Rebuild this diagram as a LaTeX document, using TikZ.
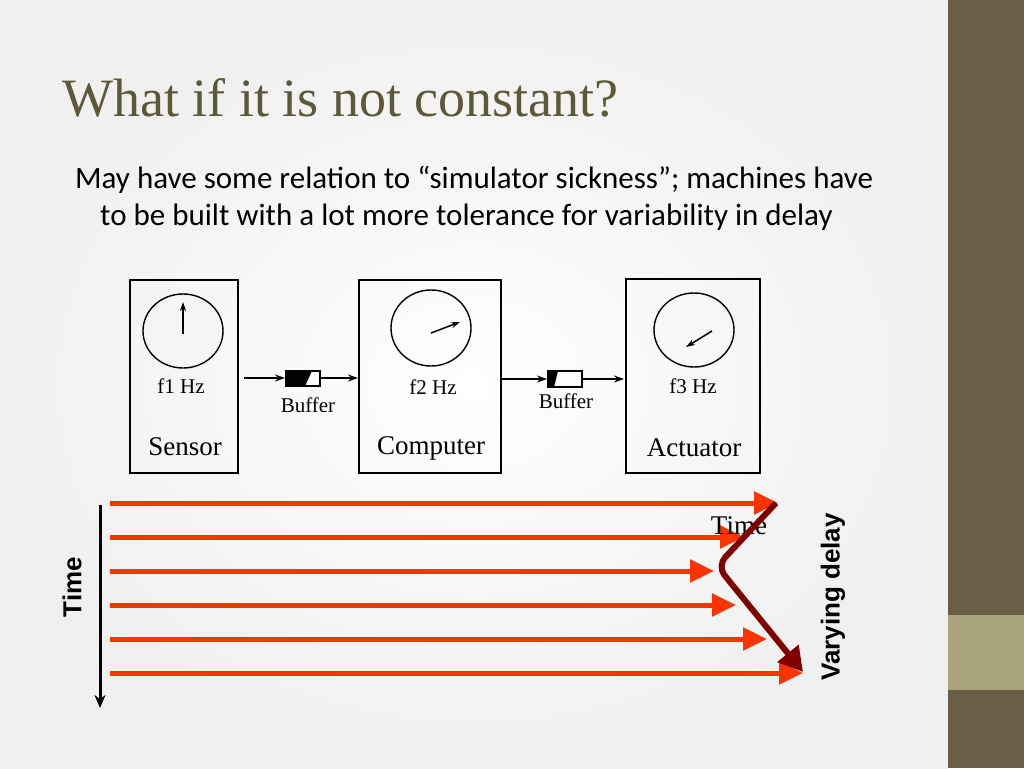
\documentclass[tikz,border=0pt]{standalone}
\usepackage{fontspec}
\setmainfont{Liberation Serif}
\newfontfamily\bodyfont{Carlito}
\newfontfamily\arialfont{Liberation Sans}
\usetikzlibrary{arrows.meta}
\definecolor{olive}{HTML}{6B5E46}
\definecolor{tan}{HTML}{A9A47E}
\definecolor{titlec}{HTML}{5C5838}
\definecolor{redarr}{HTML}{FF3300}
\definecolor{darkred}{HTML}{800000}
\begin{document}
\begin{tikzpicture}[x=1pt,y=-1pt,
  box/.style={draw,line width=1.4pt},
  dial/.style={draw,line width=1.4pt},
  lab/.style={font=\fontsize{21}{21}\selectfont,inner sep=0},
  big/.style={font=\fontsize{27}{27}\selectfont,inner sep=0},
  flow/.style={-{Stealth[length=10pt,width=7pt]},line width=2pt},
  hand/.style={-{Stealth[length=9pt,width=6pt]},line width=1.5pt},
  ray/.style={redarr,line width=5pt,-{Triangle[length=24pt,width=22pt]}}]
\useasboundingbox (0,0) rectangle (1024,768);
\shade[inner color=white,outer color=black!6] (0,0) rectangle (948,768);
\fill[olive] (948,0) rectangle (1024,768);
\fill[tan] (948,615) rectangle (1024,690);
\node[anchor=west,text=titlec,font=\fontsize{54}{54}\selectfont,inner sep=0] (title) at (62,98) {What if it is not constant?};
\node[anchor=west,font=\bodyfont\fontsize{31}{31}\selectfont,inner sep=0] (l1) at (75,180) {May have some relation to “simulator sickness”; machines have};
\node[anchor=west,font=\bodyfont\fontsize{31}{31}\selectfont,inner sep=0] (l2) at (100,217) {to be built with a lot more tolerance for variability in delay};
% boxes
\draw[box] (130,280) rectangle (238,473);
\draw[box] (359,280) rectangle (501,473);
\draw[box] (626,279) rectangle (760,473);
\draw[dial] (183,331) ellipse (40 and 37);
\draw[dial] (431,328) ellipse (40 and 38);
\draw[dial] (694,330) ellipse (40 and 37);
\coordinate (s0) at (183,334); \coordinate (s1) at (183,302);
\draw[hand] (s0) -- (s1);
\coordinate (c0) at (431,333); \coordinate (c1) at (460,322);
\draw[hand] (c0) -- (c1);
\coordinate (a0) at (712,331); \coordinate (a1) at (686,347);
\draw[hand] (a0) -- (a1);
\node[lab] (f1) at (181,386) {f1 Hz};
\node[lab] (f2) at (433,387) {f2 Hz};
\node[lab] (f3) at (693,386) {f3 Hz};
\node[lab] (b1l) at (308,405) {Buffer};
\node[lab] (b2l) at (566,401) {Buffer};
\node[big] (sen) at (185,447) {Sensor};
\node[big] (com) at (431,448) {Computer};
\node[big] (act) at (694,448) {Actuator};
% buffers
\fill (286,371) -- (312,371) -- (305,386) -- (286,386) -- cycle;
\draw[line width=1.2pt] (286,371) rectangle (320,386);
\fill (548,371) -- (558,371) -- (554,387) -- (548,387) -- cycle;
\draw[line width=1.2pt] (548,371) rectangle (582,387);
\coordinate (p1) at (244,378); \coordinate (p2) at (285,378);
\coordinate (p3) at (320,378); \coordinate (p4) at (358,378);
\coordinate (p5) at (502,379); \coordinate (p6) at (547,379);
\coordinate (p7) at (582,379); \coordinate (p8) at (624,379);
\draw[flow] (p1) -- (p2); \draw[flow] (p3) -- (p4);
\draw[flow] (p5) -- (p6); \draw[flow] (p7) -- (p8);
% time rays
\foreach \y/\t in {503/778,537/744,571/714,605/736,639/767,673/803}{
  \draw[ray] (110,\y) -- (\t,\y);
}
\node[font=\fontsize{27}{27}\selectfont,inner sep=0] (tm) at (739,526) {Time};
\coordinate (t0) at (100,505); \coordinate (t1) at (100,708);
\draw[line width=3pt,-{Stealth[length=13pt,width=11pt]}] (t0) -- (t1);
\node[rotate=90,font=\arialfont\bfseries\fontsize{26}{26}\selectfont,inner sep=0] (tl) at (72,587) {Time};
\node[rotate=90,font=\arialfont\bfseries\fontsize{26}{26}\selectfont,inner sep=0] (vd) at (833,597) {Varying delay};
\coordinate (d0) at (776,503); \coordinate (d1) at (717,566); \coordinate (d2) at (803,672);
\draw[darkred,line width=6pt,rounded corners=12pt,-{Triangle[length=24pt,width=26pt]}] (d0) -- (d1) -- (d2);
\end{tikzpicture}
\end{document}
